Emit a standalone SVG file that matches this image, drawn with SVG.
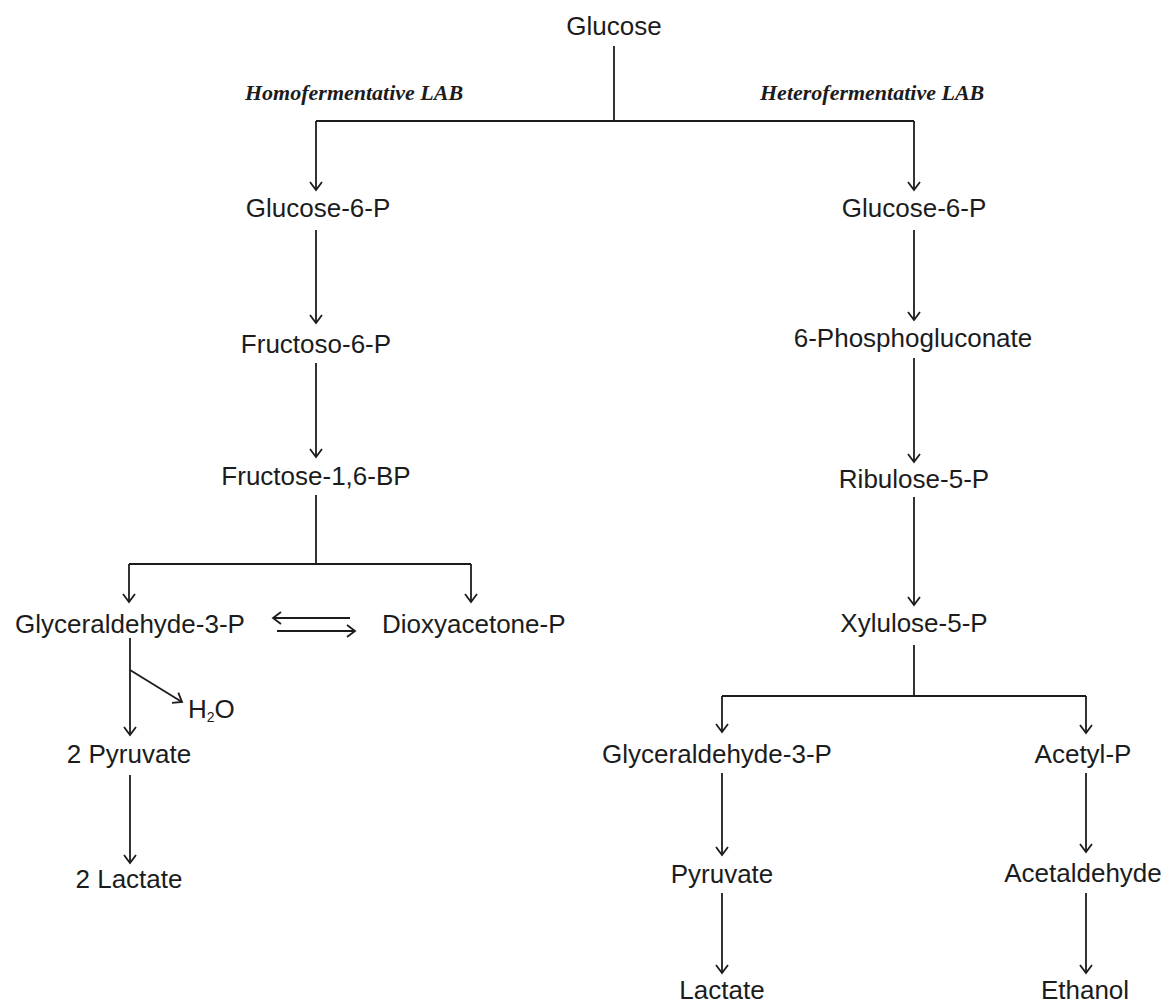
<svg xmlns="http://www.w3.org/2000/svg" width="1171" height="1007" viewBox="0 0 1171 1007">
<style>
.t{font-family:"Liberation Sans",Arial,sans-serif;font-size:26px;fill:#1c1c1c;text-anchor:middle}
.s{font-family:"Liberation Serif","Times New Roman",serif;font-size:22px;font-style:italic;font-weight:bold;fill:#1c1c1c}
.c path{fill:none;stroke:#1c1c1c;stroke-width:1.8}
</style>
<defs>
<marker id="ah" markerUnits="userSpaceOnUse" markerWidth="20" markerHeight="20" refX="0" refY="0" viewBox="-10 -10 20 20" orient="auto">
<path d="M-8,-6 L0,0 L-8,6" fill="none" stroke="#1c1c1c" stroke-width="1.8"/>
</marker>
</defs>
<rect width="1171" height="1007" fill="#ffffff"/>
<g id="connectors" class="c">
<path d="M614,46 V121"/>
<path d="M316,121 H914"/>
<path d="M316,121 V190" marker-end="url(#ah)"/>
<path d="M914,121 V190" marker-end="url(#ah)"/>
<path d="M316,230 V323" marker-end="url(#ah)"/>
<path d="M316,363 V457" marker-end="url(#ah)"/>
<path d="M316,495 V564"/>
<path d="M129,564 H471"/>
<path d="M129,564 V602" marker-end="url(#ah)"/>
<path d="M471,564 V602" marker-end="url(#ah)"/>
<path d="M350,618 H273" marker-end="url(#ah)"/>
<path d="M277,631 H355" marker-end="url(#ah)"/>
<path d="M130,638 V735" marker-end="url(#ah)"/>
<path d="M130,670 L182,702" marker-end="url(#ah)"/>
<path d="M130,775 V863" marker-end="url(#ah)"/>
<path d="M914,230 V320" marker-end="url(#ah)"/>
<path d="M914,358 V462" marker-end="url(#ah)"/>
<path d="M914,497 V605" marker-end="url(#ah)"/>
<path d="M914,645 V696"/>
<path d="M722,696 H1086"/>
<path d="M722,696 V732" marker-end="url(#ah)"/>
<path d="M1086,696 V733" marker-end="url(#ah)"/>
<path d="M722,773 V855" marker-end="url(#ah)"/>
<path d="M722,893 V973" marker-end="url(#ah)"/>
<path d="M1086,773 V852" marker-end="url(#ah)"/>
<path d="M1086,893 V973" marker-end="url(#ah)"/>
</g>
<g id="glucose"><text class="t" x="614" y="35">Glucose</text></g>
<g id="label-homo"><text class="s" x="245" y="100">Homofermentative LAB</text></g>
<g id="label-hetero"><text class="s" x="760" y="100">Heterofermentative LAB</text></g>
<g id="homo-g6p"><text class="t" x="318" y="217">Glucose-6-P</text></g>
<g id="homo-f6p"><text class="t" x="316" y="353">Fructoso-6-P</text></g>
<g id="homo-fbp"><text class="t" x="316" y="485">Fructose-1,6-BP</text></g>
<g id="homo-g3p"><text class="t" x="130" y="633">Glyceraldehyde-3-P</text></g>
<g id="homo-dhap"><text class="t" x="382" y="633" style="text-anchor:start">Dioxyacetone-P</text></g>
<g id="homo-h2o"><text class="t" x="188" y="718" style="text-anchor:start">H<tspan font-size="14" dy="4">2</tspan><tspan dy="-4">O</tspan></text></g>
<g id="homo-pyruvate"><text class="t" x="129" y="763">2 Pyruvate</text></g>
<g id="homo-lactate"><text class="t" x="129" y="888">2 Lactate</text></g>
<g id="hetero-g6p"><text class="t" x="914" y="217">Glucose-6-P</text></g>
<g id="hetero-6pg"><text class="t" x="913" y="347">6-Phosphogluconate</text></g>
<g id="hetero-ru5p"><text class="t" x="914" y="488">Ribulose-5-P</text></g>
<g id="hetero-xu5p"><text class="t" x="914" y="632">Xylulose-5-P</text></g>
<g id="hetero-g3p"><text class="t" x="717" y="763">Glyceraldehyde-3-P</text></g>
<g id="hetero-acetylp"><text class="t" x="1083" y="763">Acetyl-P</text></g>
<g id="hetero-pyruvate"><text class="t" x="722" y="883">Pyruvate</text></g>
<g id="hetero-acetaldehyde"><text class="t" x="1083" y="882">Acetaldehyde</text></g>
<g id="hetero-lactate"><text class="t" x="722" y="999">Lactate</text></g>
<g id="hetero-ethanol"><text class="t" x="1085" y="999">Ethanol</text></g>
</svg>
